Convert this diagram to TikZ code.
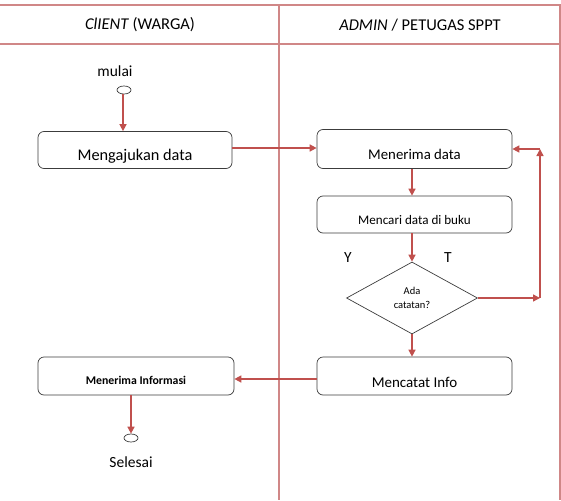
\documentclass[tikz,border=0pt]{standalone}
\usepackage{fontspec}
\setmainfont{Carlito}
\usetikzlibrary{arrows.meta,shapes.geometric}
\definecolor{flowred}{RGB}{192,80,77}
\definecolor{lanecol}{RGB}{208,135,135}
\definecolor{boxcol}{RGB}{60,60,60}
\tikzset{
  lane/.style={draw=lanecol,line width=1.3pt},
  procbox/.style={draw=boxcol,line width=0.7pt,rounded corners=6pt,inner sep=0pt,
    minimum width=195pt,align=center},
  flow/.style={draw=flowred,line width=1.4pt,-{Triangle[length=7pt,width=7pt]}},
  terminal/.style={draw=boxcol,line width=0.7pt,ellipse,inner sep=0pt,minimum width=14pt,minimum height=8pt},
  decide/.style={draw=boxcol,line width=0.7pt,diamond,inner sep=0pt,minimum width=131pt,minimum height=72pt,align=center},
  lbl/.style={inner sep=0pt,font=\fontsize{15.5}{18}\selectfont}
}
\begin{document}
\begin{tikzpicture}[x=1pt,y=-1pt]
\useasboundingbox (0,0) rectangle (561,500);
% swimlanes
\draw[lane] (0,5) -- (560,5) -- (560,500);
\draw[lane] (0,44) -- (560,44);
\draw[lane] (279,5) -- (279,500);
\node[font=\fontsize{16.5}{19}\selectfont] (h1) at (140,25) {\textit{ClIENT} (WARGA)};
\node[font=\fontsize{16.5}{19}\selectfont] (h2) at (420,25) {\textit{ADMIN} / PETUGAS SPPT};
% client lane
\node[lbl,anchor=base] (mulai) at (115,77) {mulai};
\node[terminal] (start) at (124,90) {};
\node[procbox,minimum width=194pt,text height=29pt,text depth=8pt,font=\fontsize{16.3}{18}\selectfont]
  (aju) at (135,150) {Mengajukan data};
\node[procbox,minimum width=196pt,text height=27pt,text depth=11pt,font=\fontsize{11.8}{13}\selectfont\bfseries]
  (info) at (136,376) {Menerima Informasi};
\node[terminal] (end) at (131,438) {};
\node[lbl,anchor=base] (selesai) at (131,467) {Selesai};
% admin lane
\node[procbox,text height=30pt,text depth=9pt,font=\fontsize{14.8}{16}\selectfont]
  (terima) at (414.5,149) {Menerima data};
\node[procbox,text height=28pt,text depth=9pt,font=\fontsize{13.1}{15}\selectfont]
  (cari) at (414.5,214.5) {Mencari data di buku};
\node[decide,font=\fontsize{10.5}{13.5}\selectfont] (ada) at (412,298) {Ada\\catatan?};
\node[procbox,text height=30pt,text depth=8pt,font=\fontsize{15}{17}\selectfont]
  (catat) at (414.5,376) {Mencatat Info};
\node[lbl,anchor=base] (ylbl) at (348,262) {Y};
\node[lbl,anchor=base] (tlbl) at (448,262) {T};
\coordinate (c1) at (540,298);
\coordinate (c2) at (540,149);
% connectors
\draw[flow] (start.south -| 123,0) -- (aju.north -| 123,0);
\draw[flow] (aju.east |- 0,148) -- (terima.west |- 0,148);
\draw[flow] (terima.south -| 412,0) -- (cari.north -| 412,0);
\draw[flow] (cari.south -| 412,0) -- (ada.north);
\draw[flow] (ada.east) -- (c1);
\draw[flow] (c1) -- (c2);
\draw[flow] (c2) -- (terima.east |- c2);
\draw[flow] (ada.south) -- (catat.north -| 412,0);
\draw[flow] (catat.west |- 0,379) -- (info.east |- 0,379);
\draw[flow] (info.south -| 131,0) -- (end.north);
\end{tikzpicture}
\end{document}
